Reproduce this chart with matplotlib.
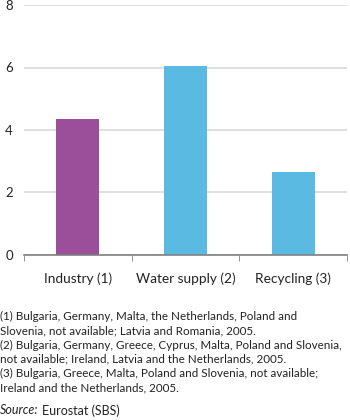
import matplotlib.pyplot as plt
import numpy as np

plt.rcParams['font.family'] = ['Lato', 'DejaVu Sans']
plt.rcParams['font.size'] = 9

# Data
categories = ['Industry (1)', 'Water supply (2)', 'Recycling (3)']
values = [4.34, 6.05, 2.65]
colors = ['#9b4f9b', '#5bbae2', '#5bbae2']
yticks = [0, 2, 4, 6, 8]
notes = [
    '(1) Bulgaria, Germany, Malta, the Netherlands, Poland and\n'
    'Slovenia, not available; Latvia and Romania, 2005.',
    '(2) Bulgaria, Germany, Greece, Cyprus, Malta, Poland and Slovenia,\n'
    'not available; Ireland, Latvia and the Netherlands, 2005.',
    '(3) Bulgaria, Greece, Malta, Poland and Slovenia, not available;\n'
    'Ireland and the Netherlands, 2005.',
]

W, H = 350, 420
fig = plt.figure(figsize=(3.5, 4.2), dpi=100)
ax = fig.add_axes([24 / W, 1 - 255 / H, (347 - 24) / W, 250 / H])

x = np.arange(len(categories))
ax.bar(x, values, width=0.4, color=colors, zorder=3)
ax.set_xlim(-0.5, len(categories) - 0.5)
ax.set_ylim(0, 8)
ax.set_yticks(yticks)
ax.yaxis.grid(True, color='#d9d9d9', linewidth=1.2, zorder=0)
ax.tick_params(axis='y', length=0, pad=8, labelsize=9.5, colors='#222222')
ax.set_xticks([])
ax.set_xticks(np.arange(len(categories) + 1) - 0.5, minor=True)
ax.tick_params(axis='x', which='minor', length=4, direction='out', color='#808080')
for i, c in enumerate(categories):
    ax.text(i, -0.55, c, ha='center', va='top', fontsize=9.8, color='#222222')
for s in ['top', 'right', 'left']:
    ax.spines[s].set_visible(False)
ax.spines['bottom'].set_color('#808080')
ax.spines['bottom'].set_linewidth(1.2)
ax.spines['bottom'].set_zorder(4)

fig.text(0, 1 - 311 / H, '\n'.join(notes), ha='left', va='top', fontsize=8.4,
         linespacing=1.36, color='#222222')
fig.text(0, 1 - 404 / H, 'Source:', ha='left', va='top', fontsize=9,
         style='italic', color='#222222')
fig.text(42 / W, 1 - 404 / H, 'Eurostat (SBS)', ha='left', va='top', fontsize=9,
         color='#222222')

fig.savefig('out.png', dpi=100)
